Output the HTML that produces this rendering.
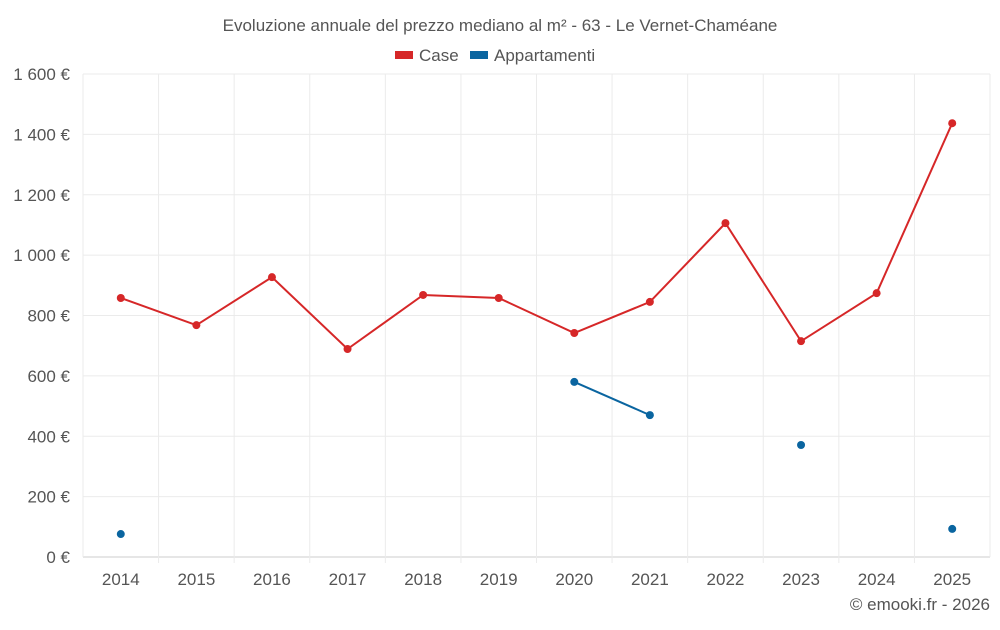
<!DOCTYPE html>
<html><head><meta charset="utf-8"><style>
body{margin:0;background:#fff;font-family:"Liberation Sans",sans-serif;}
svg text{font-family:"Liberation Sans",sans-serif;fill:#555;}
</style></head><body>
<svg id="c" width="1000" height="625">
<text x="500" y="31" text-anchor="middle" font-size="17">Evoluzione annuale del prezzo mediano al m² - 63 - Le Vernet-Chaméane</text>
<g><rect x="395" y="51" width="18" height="8" fill="#d62728"/><text x="419" y="61" font-size="17">Case</text></g>
<g><rect x="470" y="51" width="18" height="8" fill="#0a65a0"/><text x="494" y="61" font-size="17">Appartamenti</text></g>
<g id="grid"></g><g id="marks"></g>
<text x="990" y="610" text-anchor="end" font-size="17">© emooki.fr - 2026</text>
</svg>
<script>
const years=[2014,2015,2016,2017,2018,2019,2020,2021,2022,2023,2024,2025];
const caseVals=[858,768,927,689,868,858,742,845,1106,715,874,1437];
const aptVals=[76,null,null,null,null,null,580,470,null,371,null,93];
const yTicks=[0,200,400,600,800,1000,1200,1400,1600];
const yLabels=["0 €","200 €","400 €","600 €","800 €","1 000 €","1 200 €","1 400 €","1 600 €"];
const L=83,R=990,T=74,B=557,NS="http://www.w3.org/2000/svg";
const step=(R-L)/years.length;
const x=i=>L+step*(i+0.5);
const y=v=>B-(v/1600)*(B-T);
const g=document.getElementById('grid'),m=document.getElementById('marks');
function el(p,t,a){const e=document.createElementNS(NS,t);for(const k in a)e.setAttribute(k,a[k]);p.appendChild(e);return e;}
yTicks.forEach((v,i)=>{
 const l=el(g,'line',{x1:L,x2:R,y1:y(v),y2:y(v),stroke:i==0?'#ccc':'#ebebeb'});
 
 
 const t=el(g,'text',{x:70,y:y(v)+6,'text-anchor':'end','font-size':'17'});t.textContent=yLabels[i];
 
 
});
for(let i=0;i<=years.length;i++){
 const l=el(g,'line',{x1:L+step*i,x2:L+step*i,y1:T,y2:B+(i==0||i==years.length?0:6),stroke:'#ebebeb'});
 
 
}
years.forEach((yr,i)=>{
 const t=el(g,'text',{x:x(i),y:585,'text-anchor':'middle','font-size':'17'});t.textContent=yr;
 
 
});
function series(vals,color,name){
 let seg=[];
 const flush=()=>{if(seg.length>1){const p=el(m,'polyline',{points:seg.join(' '),fill:'none',stroke:color,'stroke-width':2});
 
 }seg=[];};
 vals.forEach((v,i)=>{if(v==null){flush();return;}seg.push(x(i)+','+y(v));});flush();
 vals.forEach((v,i)=>{if(v==null)return;const c=el(m,'circle',{cx:x(i),cy:y(v),r:4,fill:color});
 
 });
}
series(caseVals,'#d62728','case');
series(aptVals,'#0a65a0','appartamenti');
</script>
</body></html>
